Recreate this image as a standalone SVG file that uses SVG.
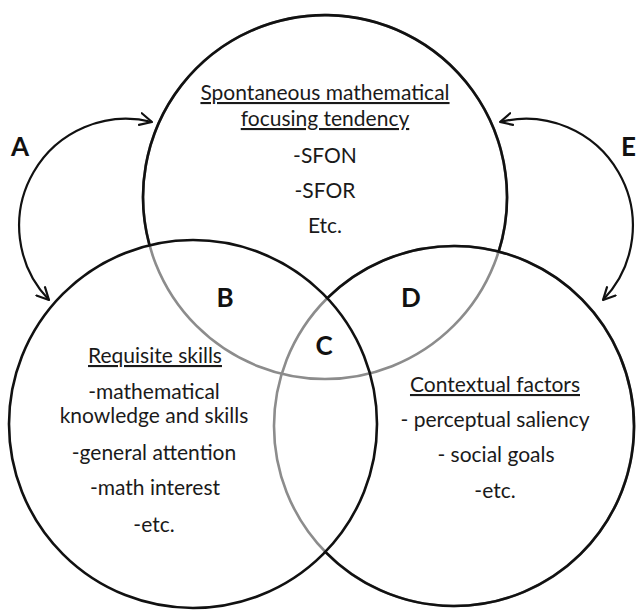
<svg xmlns="http://www.w3.org/2000/svg" width="638" height="610" viewBox="0 0 638 610">
  <style>
    .bg { fill: #ffffff; }
    .ring-gray { fill: none; stroke: #8c8c8c; stroke-width: 2.6; }
    .ring { fill: none; stroke: #111111; stroke-width: 2.6; }
    .txt { font-family: Lato, "Open Sans", "Liberation Sans", sans-serif; fill: #1a1a1a; text-anchor: middle; font-size: 21px; }
    .head { text-decoration: underline; }
    .letter { font-family: Lato, "Open Sans", "Liberation Sans", sans-serif; fill: #111111; font-size: 26px; font-weight: 700; }
    .conn { fill: none; stroke: #111111; stroke-width: 2.2; marker-start: url(#arr); marker-end: url(#arr); }
  </style>
  <defs>
    <marker id="arr" viewBox="0 0 14 14" refX="13" refY="7" markerWidth="14" markerHeight="14" markerUnits="userSpaceOnUse" orient="auto-start-reverse">
      <path d="M1,1 L13,7 L1,13" fill="none" stroke="#111111" stroke-width="2.2" stroke-linecap="round" stroke-linejoin="round"/>
    </marker>
  </defs>
  <rect class="bg" x="0" y="0" width="638" height="610"/>

  <!-- gray underlays (parts inside other circles) -->
  <g id="gray-arcs">
    <circle class="ring-gray" cx="325" cy="197" r="182"/>
    <circle class="ring-gray" cx="454" cy="426" r="180"/>
  </g>

  <g id="node-top">
    <path class="ring" d="M149.5,245.2 A182,182 0 1 1 498.7,251.6"/>
    <text class="txt head" x="325" y="100">Spontaneous mathematical</text>
    <text class="txt head" x="325" y="126">focusing tendency</text>
    <text class="txt" x="325" y="163">-SFON</text>
    <text class="txt" x="325" y="198">-SFOR</text>
    <text class="txt" x="325" y="233">Etc.</text>
  </g>

  <g id="node-left">
    <circle class="ring" cx="193" cy="424" r="184"/>
    <text class="txt head" x="155" y="363">Requisite skills</text>
    <text class="txt" x="154" y="399">-mathematical</text>
    <text class="txt" x="154" y="423">knowledge and skills</text>
    <text class="txt" x="154" y="460">-general attention</text>
    <text class="txt" x="155" y="495">-math interest</text>
    <text class="txt" x="154" y="532">-etc.</text>
  </g>

  <g id="node-right">
    <path class="ring" d="M327.3,298.2 A180,180 0 1 1 325.3,551.8"/>
    <text class="txt head" x="495" y="392">Contextual factors</text>
    <text class="txt" x="495" y="427">- perceptual saliency</text>
    <text class="txt" x="496" y="462">- social goals</text>
    <text class="txt" x="495" y="498">-etc.</text>
  </g>

  <g id="regions">
    <text class="letter" x="225" y="307" text-anchor="middle">B</text>
    <text class="letter" x="324" y="355" text-anchor="middle">C</text>
    <text class="letter" x="411" y="307" text-anchor="middle">D</text>
  </g>

  <g id="connectors">
    <path id="conn-A" class="conn" d="M152,122 A107,107 0 0 0 49,300"/>
    <path id="conn-E" class="conn" d="M500,122 A107,107 0 0 1 603,300"/>
    <text class="letter" x="11" y="156">A</text>
    <text class="letter" x="621" y="156">E</text>
  </g>
</svg>
